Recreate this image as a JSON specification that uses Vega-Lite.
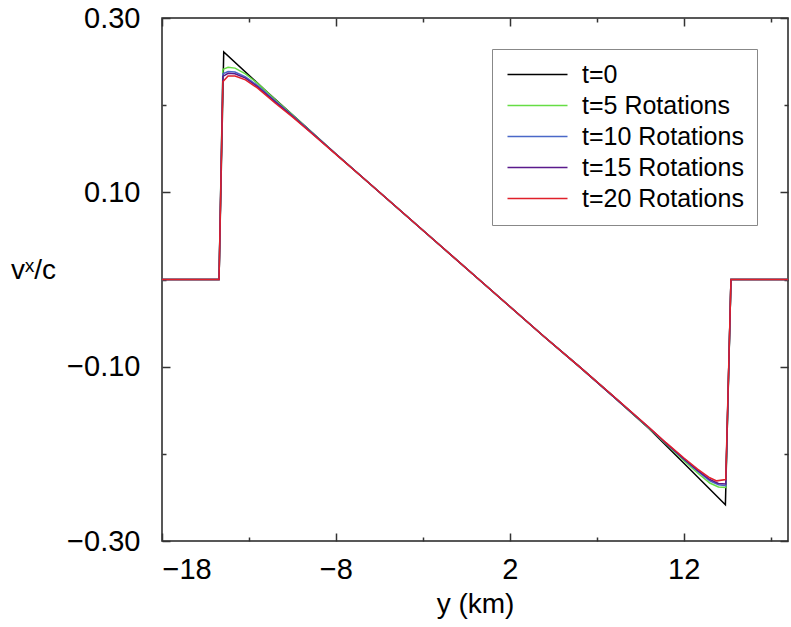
{
  "$schema": "https://vega.github.io/schema/vega-lite/v6.json",
  "width": 626,
  "height": 523,
  "autosize": {"type": "none"},
  "padding": {"left": 162, "top": 18, "right": 3, "bottom": 86},
  "config": {
    "font": "Liberation Sans",
    "view": {"stroke": "#222222", "strokeWidth": 1.5},
    "axis": {"domain": false, "grid": false, "labelFont": "Liberation Sans", "titleFont": "Liberation Sans", "labelFontSize": 29, "titleFontSize": 28, "titleFontWeight": "normal", "labelColor": "#000000", "titleColor": "#000000", "tickColor": "#333333", "tickWidth": 1.5}
  },
  "datasets": {
    "curves": [
      {"s":"t=0","x":-18,"v":0},{"s":"t=0","x":-14.72,"v":0},{"s":"t=0","x":-14.45,"v":0.261},{"s":"t=0","x":-12,"v":0.216},{"s":"t=0","x":-10,"v":0.18},{"s":"t=0","x":-8,"v":0.144},{"s":"t=0","x":-6,"v":0.109},{"s":"t=0","x":-4,"v":0.074},{"s":"t=0","x":-2,"v":0.039},{"s":"t=0","x":0,"v":0.004},{"s":"t=0","x":2,"v":-0.031},{"s":"t=0","x":4,"v":-0.066},{"s":"t=0","x":6,"v":-0.1},{"s":"t=0","x":8,"v":-0.135},{"s":"t=0","x":10,"v":-0.171},{"s":"t=0","x":12,"v":-0.2105},{"s":"t=0","x":14.4,"v":-0.2585},{"s":"t=0","x":14.72,"v":0},{"s":"t=0","x":18,"v":0},

      {"s":"t=5 Rotations","x":-18,"v":0},{"s":"t=5 Rotations","x":-14.72,"v":0},{"s":"t=5 Rotations","x":-14.5,"v":0.241},{"s":"t=5 Rotations","x":-14.2,"v":0.2435},{"s":"t=5 Rotations","x":-13.8,"v":0.2425},{"s":"t=5 Rotations","x":-13.2,"v":0.236},{"s":"t=5 Rotations","x":-12.5,"v":0.225},{"s":"t=5 Rotations","x":-11.5,"v":0.2065},{"s":"t=5 Rotations","x":-10.5,"v":0.189},{"s":"t=5 Rotations","x":-9.5,"v":0.171},{"s":"t=5 Rotations","x":-8,"v":0.144},{"s":"t=5 Rotations","x":-6,"v":0.109},{"s":"t=5 Rotations","x":-4,"v":0.074},{"s":"t=5 Rotations","x":-2,"v":0.039},{"s":"t=5 Rotations","x":0,"v":0.004},{"s":"t=5 Rotations","x":2,"v":-0.031},{"s":"t=5 Rotations","x":4,"v":-0.066},{"s":"t=5 Rotations","x":6,"v":-0.1},{"s":"t=5 Rotations","x":8,"v":-0.135},{"s":"t=5 Rotations","x":10,"v":-0.1705},{"s":"t=5 Rotations","x":11,"v":-0.189},{"s":"t=5 Rotations","x":12,"v":-0.2075},{"s":"t=5 Rotations","x":12.8,"v":-0.222},{"s":"t=5 Rotations","x":13.5,"v":-0.2335},{"s":"t=5 Rotations","x":14,"v":-0.238},{"s":"t=5 Rotations","x":14.42,"v":-0.2385},{"s":"t=5 Rotations","x":14.72,"v":0},{"s":"t=5 Rotations","x":18,"v":0},

      {"s":"t=10 Rotations","x":-18,"v":0},{"s":"t=10 Rotations","x":-14.72,"v":0},{"s":"t=10 Rotations","x":-14.5,"v":0.236},{"s":"t=10 Rotations","x":-14.2,"v":0.2385},{"s":"t=10 Rotations","x":-13.8,"v":0.238},{"s":"t=10 Rotations","x":-13.2,"v":0.2325},{"s":"t=10 Rotations","x":-12.5,"v":0.2225},{"s":"t=10 Rotations","x":-11.5,"v":0.205},{"s":"t=10 Rotations","x":-10.5,"v":0.188},{"s":"t=10 Rotations","x":-9.5,"v":0.1705},{"s":"t=10 Rotations","x":-8,"v":0.144},{"s":"t=10 Rotations","x":-6,"v":0.109},{"s":"t=10 Rotations","x":-4,"v":0.074},{"s":"t=10 Rotations","x":-2,"v":0.039},{"s":"t=10 Rotations","x":0,"v":0.004},{"s":"t=10 Rotations","x":2,"v":-0.031},{"s":"t=10 Rotations","x":4,"v":-0.066},{"s":"t=10 Rotations","x":6,"v":-0.1},{"s":"t=10 Rotations","x":8,"v":-0.135},{"s":"t=10 Rotations","x":10,"v":-0.17},{"s":"t=10 Rotations","x":11,"v":-0.1885},{"s":"t=10 Rotations","x":12,"v":-0.206},{"s":"t=10 Rotations","x":12.8,"v":-0.22},{"s":"t=10 Rotations","x":13.5,"v":-0.231},{"s":"t=10 Rotations","x":14,"v":-0.2355},{"s":"t=10 Rotations","x":14.42,"v":-0.2365},{"s":"t=10 Rotations","x":14.72,"v":0},{"s":"t=10 Rotations","x":18,"v":0},

      {"s":"t=15 Rotations","x":-18,"v":0},{"s":"t=15 Rotations","x":-14.72,"v":0},{"s":"t=15 Rotations","x":-14.5,"v":0.233},{"s":"t=15 Rotations","x":-14.2,"v":0.2365},{"s":"t=15 Rotations","x":-13.8,"v":0.236},{"s":"t=15 Rotations","x":-13.2,"v":0.231},{"s":"t=15 Rotations","x":-12.5,"v":0.221},{"s":"t=15 Rotations","x":-11.5,"v":0.204},{"s":"t=15 Rotations","x":-10.5,"v":0.1875},{"s":"t=15 Rotations","x":-9.5,"v":0.17},{"s":"t=15 Rotations","x":-8,"v":0.144},{"s":"t=15 Rotations","x":-6,"v":0.109},{"s":"t=15 Rotations","x":-4,"v":0.074},{"s":"t=15 Rotations","x":-2,"v":0.039},{"s":"t=15 Rotations","x":0,"v":0.004},{"s":"t=15 Rotations","x":2,"v":-0.031},{"s":"t=15 Rotations","x":4,"v":-0.066},{"s":"t=15 Rotations","x":6,"v":-0.1},{"s":"t=15 Rotations","x":8,"v":-0.135},{"s":"t=15 Rotations","x":10,"v":-0.1698},{"s":"t=15 Rotations","x":11,"v":-0.188},{"s":"t=15 Rotations","x":12,"v":-0.2055},{"s":"t=15 Rotations","x":12.8,"v":-0.219},{"s":"t=15 Rotations","x":13.5,"v":-0.2295},{"s":"t=15 Rotations","x":14,"v":-0.234},{"s":"t=15 Rotations","x":14.42,"v":-0.2345},{"s":"t=15 Rotations","x":14.72,"v":0},{"s":"t=15 Rotations","x":18,"v":0},

      {"s":"t=20 Rotations","x":-18,"v":0},{"s":"t=20 Rotations","x":-14.72,"v":0},{"s":"t=20 Rotations","x":-14.5,"v":0.227},{"s":"t=20 Rotations","x":-14.2,"v":0.2335},{"s":"t=20 Rotations","x":-13.8,"v":0.2335},{"s":"t=20 Rotations","x":-13.2,"v":0.229},{"s":"t=20 Rotations","x":-12.5,"v":0.2195},{"s":"t=20 Rotations","x":-11.5,"v":0.2025},{"s":"t=20 Rotations","x":-10.5,"v":0.1865},{"s":"t=20 Rotations","x":-9.5,"v":0.1695},{"s":"t=20 Rotations","x":-8,"v":0.1435},{"s":"t=20 Rotations","x":-6,"v":0.109},{"s":"t=20 Rotations","x":-4,"v":0.074},{"s":"t=20 Rotations","x":-2,"v":0.039},{"s":"t=20 Rotations","x":0,"v":0.004},{"s":"t=20 Rotations","x":2,"v":-0.031},{"s":"t=20 Rotations","x":4,"v":-0.066},{"s":"t=20 Rotations","x":6,"v":-0.1},{"s":"t=20 Rotations","x":8,"v":-0.1345},{"s":"t=20 Rotations","x":10,"v":-0.1695},{"s":"t=20 Rotations","x":11,"v":-0.1875},{"s":"t=20 Rotations","x":12,"v":-0.2045},{"s":"t=20 Rotations","x":12.8,"v":-0.2175},{"s":"t=20 Rotations","x":13.5,"v":-0.2275},{"s":"t=20 Rotations","x":13.9,"v":-0.231},{"s":"t=20 Rotations","x":14.42,"v":-0.2295},{"s":"t=20 Rotations","x":14.72,"v":0},{"s":"t=20 Rotations","x":18,"v":0}
    ]
  },
  "data": {"name": "curves"},
  "resolve": {"axis": {"x": "independent", "y": "independent"}},
  "layer": [
    {
      "mark": {"type": "line", "strokeWidth": 1.5, "clip": true},
      "encoding": {
        "x": {"field": "x", "type": "quantitative", "scale": {"domain": [-18, 18], "nice": false, "zero": false},
              "axis": {"orient": "bottom", "values": [-18, -8, 2, 12], "format": "d", "tickSize": -8, "labelPadding": 22, "title": "y (km)", "titleY": 63, "titleBaseline": "middle", "titleX": 313, "titleAlign": "center"}},
        "y": {"field": "v", "type": "quantitative", "scale": {"domain": [-0.3, 0.3], "nice": false, "zero": false},
              "axis": {"orient": "left", "values": [-0.3, -0.1, 0.1, 0.3], "format": ".2f", "tickSize": -8, "labelPadding": 30, "title": "vˣ/c", "titleAngle": 0, "titleX": -129, "titleY": 252, "titleAlign": "center", "titleBaseline": "middle"}},
        "color": {"field": "s", "type": "nominal",
                  "scale": {"domain": ["t=0", "t=5 Rotations", "t=10 Rotations", "t=15 Rotations", "t=20 Rotations"], "range": ["#000000", "#66dd44", "#4a68c8", "#5a1a8c", "#e0202a"]},
                  "legend": {"orient": "none", "legendX": 330, "legendY": 31, "title": null, "padding": 13, "strokeColor": "#888888", "fillColor": "#ffffff", "symbolType": "M-1,0H5", "symbolSize": 400, "symbolStrokeWidth": 1.5, "labelFontSize": 25, "labelFont": "Liberation Sans", "labelColor": "#000000", "labelOffset": 52, "rowPadding": 5, "labelLimit": 400}}
      }
    },
    {
      "mark": {"type": "point", "opacity": 0},
      "encoding": {
        "x": {"field": "x", "type": "quantitative", "scale": {"domain": [-18, 18], "nice": false, "zero": false},
              "axis": {"orient": "bottom", "values": [-13, -3, 7, 17], "tickSize": -4, "labels": false, "title": null}},
        "y": {"field": "v", "type": "quantitative", "scale": {"domain": [-0.3, 0.3], "nice": false, "zero": false},
              "axis": {"orient": "left", "values": [-0.2, 0, 0.2], "tickSize": -4, "labels": false, "title": null}}
      }
    },
    {
      "mark": {"type": "point", "opacity": 0},
      "encoding": {
        "x": {"field": "x", "type": "quantitative", "scale": {"domain": [-18, 18], "nice": false, "zero": false},
              "axis": {"orient": "top", "values": [-18, -8, 2, 12], "tickSize": -8, "labels": false, "title": null}},
        "y": {"field": "v", "type": "quantitative", "scale": {"domain": [-0.3, 0.3], "nice": false, "zero": false},
              "axis": {"orient": "right", "values": [-0.3, -0.1, 0.1, 0.3], "tickSize": -8, "labels": false, "title": null}}
      }
    },
    {
      "mark": {"type": "point", "opacity": 0},
      "encoding": {
        "x": {"field": "x", "type": "quantitative", "scale": {"domain": [-18, 18], "nice": false, "zero": false},
              "axis": {"orient": "top", "values": [-13, -3, 7, 17], "tickSize": -4, "labels": false, "title": null}},
        "y": {"field": "v", "type": "quantitative", "scale": {"domain": [-0.3, 0.3], "nice": false, "zero": false},
              "axis": {"orient": "right", "values": [-0.2, 0, 0.2], "tickSize": -4, "labels": false, "title": null}}
      }
    }
  ]
}
